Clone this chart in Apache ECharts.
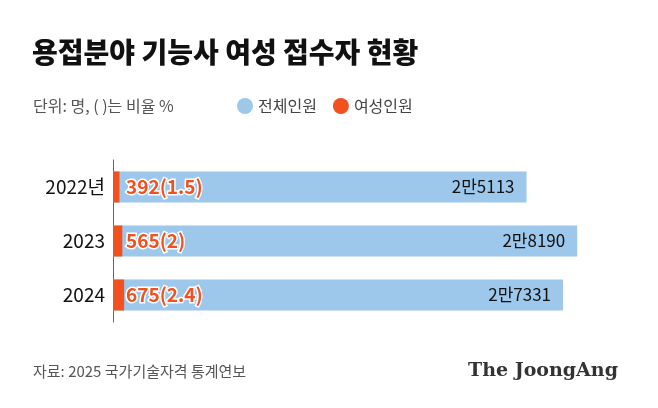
<!DOCTYPE html>
<html><head><meta charset="utf-8">
<script src="https://cdn.jsdelivr.net/npm/echarts@6/dist/echarts.min.js"></script>
<style>body{margin:0;background:#fff}#c{width:658px;height:408px}</style>
</head><body><div id="c"></div>
<script>
const categories = ['2022년', '2023', '2024'];
const totals = [25113, 28190, 27331];
const totalLabels = ['2만5113', '2만8190', '2만7331'];
const women = [392, 565, 675];
const womenPct = ['1.5', '2', '2.4'];
const chart = echarts.init(document.getElementById('c'));
const F = '"Noto Sans CJK KR","Noto Sans",sans-serif';
chart.setOption({
  animation: false,
  title: [
    {text: '용접분야 기능사 여성 접수자 현황', left: 27, top: 33, textStyle: {fontFamily: F, fontSize: 28, fontWeight: 900, color: '#111'}},
    {text: '단위: 명, ( )는 비율 %', left: 28, top: 93, textStyle: {fontFamily: F, fontSize: 16, fontWeight: 'normal', color: '#555'}},
    {text: '자료: 2025 국가기술자격 통계연보', left: 28, top: 359, textStyle: {fontFamily: F, fontSize: 15, fontWeight: 'normal', color: '#555'}},
    {text: 'The JoongAng', left: 463, top: 357, textStyle: {fontFamily: '"DejaVu Serif","Liberation Serif",serif', fontSize: 19, fontWeight: 'bold', color: '#333'}}
  ],
  legend: {left: 232, top: 93, itemWidth: 16, itemHeight: 16, itemGap: 16, icon: 'circle',
    textStyle: {fontFamily: F, fontSize: 16, color: '#444'}, data: ['전체인원', '여성인원']},
  grid: {left: 113, right: 51, top: 160, bottom: 86},
  xAxis: {type: 'value', min: 0, max: 30000, show: false},
  yAxis: {type: 'category', inverse: true, data: categories,
    axisLine: {show: true, lineStyle: {color: '#666', width: 1}}, axisTick: {show: false},
    axisLabel: {fontFamily: F, fontSize: 19, color: '#111', margin: 8}},
  series: [
    {name: '전체인원', type: 'bar', data: totals, barWidth: 31, itemStyle: {color: '#9dc8ec'},
      label: {show: true, position: 'insideRight', distance: 12, fontFamily: F, fontSize: 17, color: '#111',
        formatter: p => totalLabels[p.dataIndex]}},
    {name: '여성인원', type: 'bar', data: women, barWidth: 31, barGap: '-100%', z: 3, itemStyle: {color: '#f2501e'},
      label: {show: true, position: 'insideLeft', offset: [8, 0], fontFamily: F, fontSize: 19, fontWeight: 'bold',
        color: '#f2501e', textBorderColor: '#fff', textBorderWidth: 3,
        formatter: p => women[p.dataIndex] + '(' + womenPct[p.dataIndex] + ')'}}
  ]
});
</script></body></html>
